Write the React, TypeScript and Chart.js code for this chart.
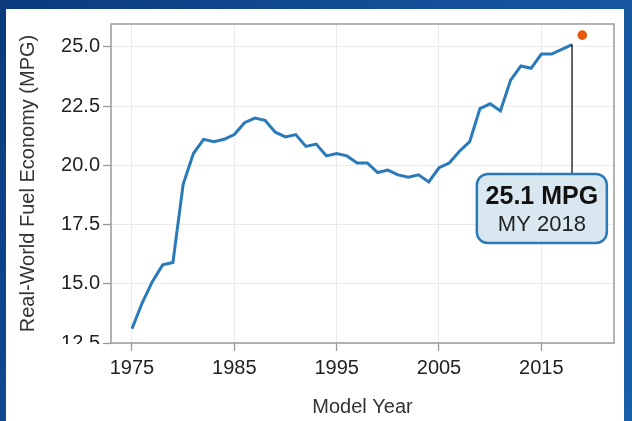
import React, { useEffect, useRef } from "react";
import { Chart, registerables } from "chart.js";

Chart.register(...registerables);

// ---- data ----
const years = [
  1975, 1976, 1977, 1978, 1979, 1980, 1981, 1982, 1983, 1984, 1985, 1986, 1987, 1988, 1989,
  1990, 1991, 1992, 1993, 1994, 1995, 1996, 1997, 1998, 1999, 2000, 2001, 2002, 2003, 2004,
  2005, 2006, 2007, 2008, 2009, 2010, 2011, 2012, 2013, 2014, 2015, 2016, 2017, 2018,
];
const mpg = [
  13.1, 14.2, 15.1, 15.8, 15.9, 19.2, 20.5, 21.1, 21.0, 21.1, 21.3, 21.8, 22.0, 21.9, 21.4,
  21.2, 21.3, 20.8, 20.9, 20.4, 20.5, 20.4, 20.1, 20.1, 19.7, 19.8, 19.6, 19.5, 19.6, 19.3,
  19.9, 20.1, 20.6, 21.0, 22.4, 22.6, 22.3, 23.6, 24.2, 24.1, 24.7, 24.7, 24.9, 25.1,
];
const prelimYears = [2019];
const prelimMpg = [25.5];

const xTickValues = [1975, 1985, 1995, 2005, 2015];
const yTickValues = [12.5, 15.0, 17.5, 20.0, 22.5, 25.0];

const xTitle = "Model Year";
const yTitle = "Real-World Fuel Economy (MPG)";
const calloutTitle = "25.1 MPG";
const calloutSub = "MY 2018";

// callout placement in data units
const calloutCenterYear = 2015.05;
const calloutTopValue = 19.64;
const calloutBottomValue = 16.72;

const FONT = "'Liberation Sans', Arial, sans-serif";

export default function App() {
  const ref = useRef<HTMLCanvasElement | null>(null);

  useEffect(() => {
    document.body.style.margin = "0";
    const canvas = ref.current;
    if (!canvas) return;

    const bgPlugin = {
      id: "bg",
      beforeDraw(chart: any) {
        const { ctx, width, height } = chart;
        ctx.save();
        const g = ctx.createLinearGradient(0, 0, width, height);
        g.addColorStop(0, "#0b3a7d");
        g.addColorStop(0.5, "#14519a");
        g.addColorStop(1, "#1a5ea8");
        ctx.fillStyle = g;
        ctx.fillRect(0, 0, width, height);
        ctx.fillStyle = "#ffffff";
        ctx.fillRect(6, 9, 618, height - 9);
        ctx.restore();
      },
      afterDraw(chart: any) {
        const { ctx, chartArea } = chart;
        const xs = chart.scales.x;
        const ys = chart.scales.y;
        ctx.save();
        // clip the lowest y label under the axis, as in the reference
        ctx.fillStyle = "#ffffff";
        ctx.fillRect(20, chartArea.bottom + 1, 86, 14);
        // plot frame
        ctx.strokeStyle = "#9a9a9a";
        ctx.lineWidth = 1.5;
        ctx.strokeRect(chartArea.left, chartArea.top, chartArea.right - chartArea.left, chartArea.bottom - chartArea.top);

        // callout
        const last = years.length - 1;
        const px = xs.getPixelForValue(years[last]);
        const py = ys.getPixelForValue(mpg[last]);
        const cx = xs.getPixelForValue(calloutCenterYear);
        const top = ys.getPixelForValue(calloutTopValue);
        const bottom = ys.getPixelForValue(calloutBottomValue);
        const w = 130;
        ctx.strokeStyle = "#111111";
        ctx.lineWidth = 1.3;
        ctx.beginPath();
        ctx.moveTo(px, py);
        ctx.lineTo(px, top);
        ctx.stroke();

        ctx.beginPath();
        (ctx as any).roundRect(cx - w / 2, top, w, bottom - top, 11);
        ctx.fillStyle = "#d9e8f0";
        ctx.fill();
        ctx.strokeStyle = "#2b7ab8";
        ctx.lineWidth = 2.5;
        ctx.stroke();

        ctx.textAlign = "center";
        ctx.textBaseline = "middle";
        ctx.fillStyle = "#111111";
        ctx.font = `bold 25px ${FONT}`;
        ctx.fillText(calloutTitle, cx, top + 23);
        ctx.fillStyle = "#222222";
        ctx.font = `22px ${FONT}`;
        ctx.fillText(calloutSub, cx, top + 51);
        ctx.restore();
      },
    };

    const chart = new Chart(canvas, {
      type: "line",
      data: {
        datasets: [
          {
            data: years.map((y, i) => ({ x: y, y: mpg[i] })),
            borderColor: "#2a7ab9",
            borderWidth: 3,
            pointRadius: 0,
            tension: 0,
            fill: false,
          },
          {
            type: "scatter",
            data: prelimYears.map((y, i) => ({ x: y, y: prelimMpg[i] })),
            backgroundColor: "#e8590c",
            borderWidth: 0,
            pointRadius: 4.8,
          } as any,
        ],
      },
      options: {
        responsive: false,
        animation: false,
        devicePixelRatio: 1,
        layout: { padding: { top: 24, right: 18, left: 0, bottom: 0 } },
        plugins: { legend: { display: false }, tooltip: { enabled: false } },
        scales: {
          x: {
            type: "linear",
            min: 1972.95,
            max: 2022.1,
            afterBuildTicks: (s: any) => {
              s.ticks = xTickValues.map((v) => ({ value: v }));
            },
            afterFit: (s: any) => {
              s.height = 78;
            },
            grid: { color: "#ebebeb", lineWidth: 1, tickLength: 8, tickColor: "#9a9a9a", tickWidth: 1.3 },
            border: { display: false },
            ticks: {
              color: "#222222",
              font: { family: FONT, size: 20 },
              padding: 5,
              maxRotation: 0,
              callback: (v: any) => String(v),
            },
            title: {
              display: true,
              text: xTitle,
              color: "#333333",
              font: { family: FONT, size: 20 },
              padding: { top: 0, bottom: 2 },
            },
          },
          y: {
            type: "linear",
            min: 12.5,
            max: 25.97,
            afterBuildTicks: (s: any) => {
              s.ticks = yTickValues.map((v) => ({ value: v }));
            },
            afterFit: (s: any) => {
              s.width = 111;
            },
            grid: { color: "#ebebeb", lineWidth: 1, tickLength: 8, tickColor: "#9a9a9a", tickWidth: 1.3 },
            border: { display: false },
            ticks: {
              color: "#222222",
              font: { family: FONT, size: 20 },
              padding: 3,
              callback: (v: any) => Number(v).toFixed(1),
            },
            title: {
              display: true,
              text: yTitle,
              color: "#333333",
              font: { family: FONT, size: 20 },
              padding: { top: 16, bottom: 0 },
            },
          },
        },
      },
      plugins: [bgPlugin],
    });

    return () => chart.destroy();
  }, []);

  return (
    <div style={{ width: 632, height: 421, position: "relative" }}>
      <canvas ref={ref} width={632} height={421} style={{ display: "block", width: 632, height: 421 }} />
    </div>
  );
}
